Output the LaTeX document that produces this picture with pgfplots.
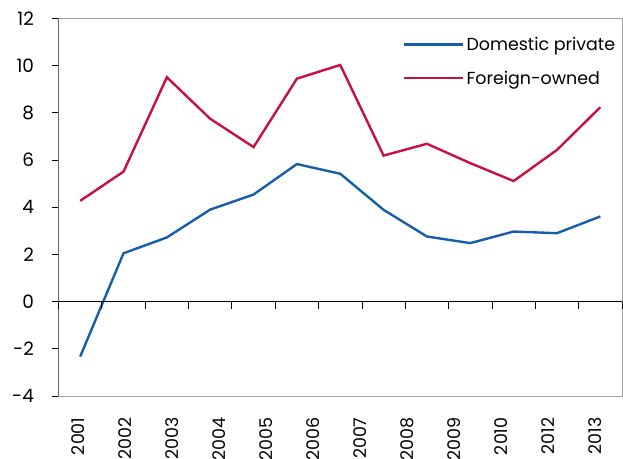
\documentclass[border=0pt]{standalone}
\usepackage{fontspec}
\setmainfont{Poppins}
\usepackage{pgfplots}
\pgfplotsset{compat=1.18}
\definecolor{dblue}{RGB}{22,94,170}
\definecolor{fred}{RGB}{200,16,66}
\definecolor{framegray}{RGB}{160,160,160}
\begin{document}
\begin{tikzpicture}
\begin{axis}[
  at={(0,0)}, anchor=south west,
  scale only axis, width=563.5bp, height=377.5bp,
  xmin=-0.5, xmax=12.5, ymin=-4, ymax=12,
  ytick={-4,-2,...,12},
  ytick pos=left,
  y tick style={black, line width=0.8bp},
  tick align=outside,
  major tick length=6bp,
  yticklabel style={font=\fontsize{18.5}{18.5}\selectfont, xshift=-15bp},
  /pgf/number format/assume math mode=true,
  xtick={-0.041667,1.041667,2.125,3.208333,4.291667,5.375,6.458333,7.541667,8.625,9.708333,10.791667,11.875},
  xticklabels={2001,2002,2003,2004,2005,2006,2007,2008,2009,2010,2012,2013},
  x tick style={draw=none},
  xticklabel style={rotate=90, anchor=east, font=\fontsize{17.5}{17.5}\selectfont, xshift=-12bp},
  axis line style={framegray, line width=0.8bp},
  legend style={draw=none, fill=none, at={(0.997,0.962)}, anchor=north east,
    font=\fontsize{17.5}{17.5}\selectfont, row sep=15bp,
    /tikz/every even column/.append style={column sep=8bp}},
  legend cell align=left,
  legend image code/.code={\draw[#1] (0bp,0bp) -- (59bp,0bp);},
]
\addplot[dblue, line width=2.4bp] coordinates {
(0,-2.33) (1,2.05) (2,2.72) (3,3.90) (4,4.54) (5,5.83) (6,5.42) (7,3.89) (8,2.76) (9,2.48) (10,2.97) (11,2.90) (12,3.61)};
\addlegendentry{Domestic private}
\addplot[fred, line width=2.4bp] coordinates {
(0,4.27) (1,5.51) (2,9.51) (3,7.75) (4,6.55) (5,9.45) (6,10.03) (7,6.19) (8,6.69) (9,5.87) (10,5.11) (11,6.43) (12,8.24)};
\addlegendentry{Foreign-owned}
\draw[black, line width=0.8bp] (rel axis cs:0,0) -- (rel axis cs:0,1);
\end{axis}
\begin{axis}[
  at={(0,0)}, anchor=south west,
  scale only axis, width=563.5bp, height=377.5bp,
  xmin=-0.5, xmax=12.5, ymin=-4, ymax=12,
  axis x line=middle, axis y line=none,
  axis line style={-, black, line width=0.8bp},
  xtick={-0.5,0.5,...,12.5},
  xticklabels={},
  tick align=outside, major tick length=7bp,
  x tick style={black, line width=0.8bp},
]
\end{axis}
\pgfresetboundingbox
\path (-58.5bp,-63bp) rectangle (564.5bp,396bp);
\end{tikzpicture}
\end{document}
